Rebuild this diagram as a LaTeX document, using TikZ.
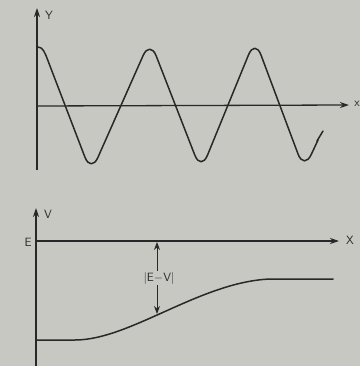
\documentclass[tikz,border=0pt]{standalone}
\usetikzlibrary{arrows.meta}
\definecolor{bg}{RGB}{200,200,195}
\definecolor{ink}{RGB}{40,40,40}
\begin{document}
\begin{tikzpicture}[x=1pt,y=-1pt,
  ax/.style={draw=ink,line width=1.3pt,-{Stealth[length=9pt,width=6pt]}},
  crv/.style={draw=ink,line width=1.5pt,line join=round,line cap=round},
  lbl/.style={font=\fontsize{12}{14}\sffamily,text=ink,inner sep=1pt}]
\fill[bg] (0,0) rectangle (360,366);
\useasboundingbox (0,0) rectangle (360,366);
% top plot
\coordinate (o1) at (37,170);
\coordinate (yt) at (37,8);
\coordinate (x1s) at (37,106);
\coordinate (x1e) at (349,105);
\draw[ax] (o1) -- (yt);
\draw[ax] (x1s) -- (x1e);
\node[lbl] (ylab) at (49,15) {Y};
\node[lbl] (xlab) at (357,104) {x};
\draw[crv] (38,47) .. controls (43,47) and (45,53) .. (47.7,60);
\draw[crv,rounded corners=17pt] (47.7,60) -- (91,173) -- (150,40)
  -- (201,171) -- (255,39) -- (304,170) -- (318,140);
\draw[crv] (317,141) -- (323,131);
% bottom plot
\coordinate (o2) at (36,366);
\coordinate (vt) at (36,208);
\coordinate (es) at (36,241);
\coordinate (ee) at (339,241);
\draw[ax] (o2) -- (vt);
\draw[ax] (es) -- (ee);
\node[lbl] (vlab) at (48,214) {V};
\node[lbl] (elab) at (28,242) {E};
\node[lbl] (xlab2) at (350,240) {X};
\draw[crv] (37,340) -- (75,340) .. controls (130,340) and (200,282) .. (270,279) -- (333,279);
\coordinate (da) at (157,242);
\coordinate (db) at (157,314);
\draw[draw=ink,line width=1pt,{Stealth[length=8pt,width=6pt]}-{Stealth[length=8pt,width=6pt]}] (da) -- (db);
\node[lbl,fill=bg] (evlab) at (159,278) {|E$-$V|};
\end{tikzpicture}
\end{document}
